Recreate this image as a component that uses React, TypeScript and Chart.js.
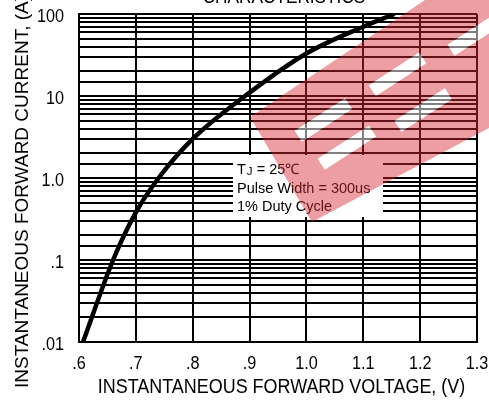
import React, { useEffect, useRef } from "react";
import { Chart, registerables } from "chart.js";

Chart.register(...registerables);

// Forward characteristic curve
const voltage = [0.607, 0.66, 0.7, 0.74, 0.8, 0.9, 1.0, 1.1, 1.155];
const current = [0.01, 0.1, 0.38, 1.0, 3.0, 11, 33, 70, 100];

const xTickValues = [0.6, 0.7, 0.8, 0.9, 1.0, 1.1, 1.2, 1.3];
const xTickLabels = [".6", ".7", ".8", ".9", "1.0", "1.1", "1.2", "1.3"];
const yTickValues = [100, 10, 1, 0.1, 0.01];
const yTickLabels = ["100", "10", "1.0", ".1", ".01"];

const titleText = "CHARACTERISTICS";
const xTitle = "INSTANTANEOUS FORWARD VOLTAGE, (V)";
const yTitle = "INSTANTANEOUS FORWARD CURRENT, (A)";
const noteLines = ["= 25℃", "Pulse Width = 300us", "1% Duty Cycle"];

const REGULAR = '"Liberation Sans", Arial, sans-serif';

function drawScaled(ctx: CanvasRenderingContext2D, text: string, x: number, y: number, sx: number) {
  ctx.save();
  ctx.translate(x, y);
  ctx.scale(sx, 1);
  ctx.fillText(text, 0, 0);
  ctx.restore();
}

const textPlugin = {
  id: "texts",
  afterDatasetsDraw(chart: any) {
    const ctx = chart.ctx as CanvasRenderingContext2D;
    // annotation box
    ctx.save();
    ctx.fillStyle = "#fff";
    ctx.fillRect(233, 155, 150, 62);
    ctx.fillStyle = "#000";
    ctx.font = `14.5px ${REGULAR}`;
    ctx.textBaseline = "alphabetic";
    ctx.textAlign = "left";
    ctx.fillText("T", 237, 174);
    const tw = ctx.measureText("T").width;
    ctx.font = `11.5px ${REGULAR}`;
    ctx.fillText("J", 237 + tw + 1, 175);
    const jw = ctx.measureText("J").width;
    ctx.font = `14.5px ${REGULAR}`;
    ctx.fillText(" " + noteLines[0], 237 + tw + 1 + jw, 174);
    ctx.fillText(noteLines[1], 237, 193);
    ctx.fillText(noteLines[2], 237, 211);
    ctx.restore();

    // watermark
    ctx.save();
    const a = (33 * Math.PI) / 180;
    const ox = 250, oy = 117;
    const ux = Math.cos(a), uy = -Math.sin(a);
    const vx = Math.sin(a), vy = Math.cos(a);
    const P = (u: number, v: number): [number, number] => [ox + u * ux + v * vx, oy + u * uy + v * vy];
    const rect = (u0: number, v0: number, u1: number, v1: number) => {
      const pts = [P(u0, v0), P(u1, v0), P(u1, v1), P(u0, v1)];
      ctx.moveTo(pts[0][0], pts[0][1]);
      for (let i = 1; i < 4; i++) ctx.lineTo(pts[i][0], pts[i][1]);
      ctx.closePath();
    };
    const holes: [number, number, number, number][] = [
      [30, 36, 90, 49],
      [34, 72, 95, 85],
      [117, 38, 177, 51],
      [119, 82, 179, 95],
      [205, 47, 262, 60],
    ];
    const outline: [number, number][] = [
      [250, 117], [425, 0], [489, 0], [489, 128], [312, 222],
    ];
    ctx.beginPath();
    ctx.moveTo(outline[0][0], outline[0][1]);
    outline.slice(1).forEach((p) => ctx.lineTo(p[0], p[1]));
    ctx.closePath();
    holes.forEach((h) => rect(h[0], h[1], h[2], h[3]));
    ctx.fillStyle = "rgba(215,40,50,0.45)";
    ctx.fill("evenodd");
    ctx.beginPath();
    holes.forEach((h) => rect(h[0], h[1], h[2], h[3]));
    ctx.fillStyle = "rgba(255,255,255,0.5)";
    ctx.fill();
    ctx.restore();
  },
  afterDraw(chart: any) {
    const ctx = chart.ctx as CanvasRenderingContext2D;
    const x = chart.scales.x;
    const y = chart.scales.y;
    ctx.save();
    ctx.fillStyle = "#000";
    // title (cut off at the top)
    ctx.font = `21px ${REGULAR}`;
    ctx.textAlign = "center";
    ctx.textBaseline = "alphabetic";
    drawScaled(ctx, titleText, 284, 3, 0.82);
    // x ticks
    ctx.font = `18px ${REGULAR}`;
    ctx.textAlign = "center";
    xTickValues.forEach((v, i) => {
      drawScaled(ctx, xTickLabels[i], x.getPixelForValue(v), 369, 0.9);
    });
    // y ticks
    ctx.textAlign = "right";
    ctx.textBaseline = "middle";
    yTickValues.forEach((v, i) => {
      drawScaled(ctx, yTickLabels[i], 64, y.getPixelForValue(v) + 3, 0.9);
    });
    // x title
    ctx.font = `19.5px ${REGULAR}`;
    ctx.textAlign = "center";
    ctx.textBaseline = "alphabetic";
    drawScaled(ctx, xTitle, 281.5, 393, 0.92);
    // y title
    ctx.translate(28, 388);
    ctx.rotate(-Math.PI / 2);
    ctx.font = `19px ${REGULAR}`;
    ctx.textAlign = "left";
    ctx.textBaseline = "alphabetic";
    ctx.fillText(yTitle, 0, 0);
    ctx.restore();
  },
};

export default function App() {
  const ref = useRef<HTMLCanvasElement>(null);
  useEffect(() => {
    document.body.style.margin = "0";
    const chart = new Chart(ref.current!, {
      type: "line",
      data: {
        datasets: [
          {
            data: voltage.map((v, i) => ({ x: v, y: current[i] })),
            borderColor: "#000",
            borderWidth: 4.5,
            pointRadius: 0,
            cubicInterpolationMode: "monotone",
            fill: false,
          },
        ],
      },
      options: {
        animation: false,
        responsive: false,
        maintainAspectRatio: false,
        layout: { padding: { left: 79, right: 12, top: 14, bottom: 59 } },
        plugins: { legend: { display: false }, tooltip: { enabled: false } },
        scales: {
          x: {
            type: "linear",
            min: 0.6,
            max: 1.3,
            ticks: { display: false, stepSize: 0.1 },
            grid: { color: "#000", lineWidth: 2, drawTicks: false },
            border: { display: true, color: "#000", width: 2 },
            afterFit: (s: any) => { s.height = 0; },
          },
          y: {
            type: "logarithmic",
            min: 0.01,
            max: 100,
            ticks: { display: false },
            grid: { color: "#000", lineWidth: 2, drawTicks: false },
            border: { display: true, color: "#000", width: 2 },
            afterFit: (s: any) => { s.width = 0; },
          },
        },
      } as any,
      plugins: [textPlugin],
    });
    return () => chart.destroy();
  }, []);
  return <canvas ref={ref} width={489} height={401} style={{ display: "block" }} />;
}
